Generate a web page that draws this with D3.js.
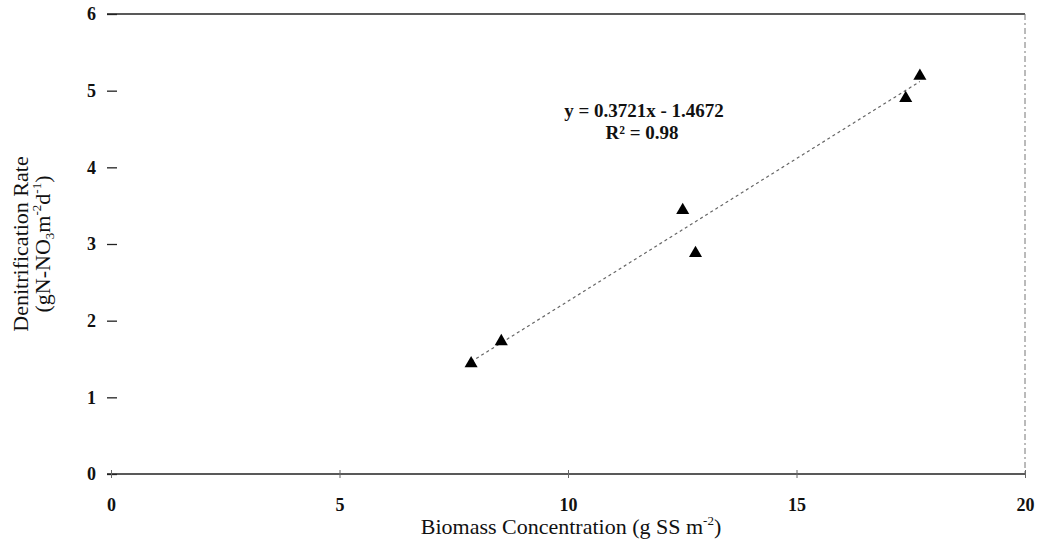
<!DOCTYPE html>
<html lang="en">
<head>
    <meta charset="UTF-8">
    <title>Denitrification Rate vs Biomass Concentration</title>
    <script src="https://d3js.org/d3.v7.min.js"></script>
    <style>
        body {
            margin: 0;
            background: #fff;
        }

        svg text {
            font-family: "Liberation Serif", "DejaVu Serif", serif;
            fill: #111;
        }

        .tick text {
            font-size: 18px;
            font-weight: bold;
        }

        .axis-title {
            font-size: 22px;
        }

        .equation {
            font-size: 19px;
            font-weight: bold;
        }
    </style>
</head>
<body>

<div id="chart"></div>

<script>
    // data
    var biomass = [7.88, 8.54, 12.51, 12.79, 17.39, 17.70];
    var denitRate = [1.44, 1.73, 3.44, 2.88, 4.90, 5.19];
    var xTicks = [0, 5, 10, 15, 20];
    var yTicks = [0, 1, 2, 3, 4, 5, 6];
    var slope = 0.3721;
    var intercept = -1.4672;
    var eqLines = ["y = 0.3721x - 1.4672", "R\u00b2 = 0.98"];

    var w = 1042;
    var h = 544;
    var plotLeft = 111, plotRight = 1025, plotTop = 14, plotBottom = 474;

    var x = d3.scaleLinear().domain([0, 20]).range([plotLeft, plotRight]);
    var y = d3.scaleLinear().domain([0, 6]).range([plotBottom, plotTop]);

    var svg = d3.select("#chart")
        .append("svg")
        .attr("width", w)
        .attr("height", h);

    // frame: top and bottom solid, right side faint dashed, no left line
    svg.append("line")
        .attr("x1", plotLeft - 4).attr("x2", plotRight)
        .attr("y1", y(6)).attr("y2", y(6))
        .attr("stroke", "#222").attr("stroke-width", 1.5);

    svg.append("line")
        .attr("x1", plotLeft - 4).attr("x2", plotRight)
        .attr("y1", y(0)).attr("y2", y(0))
        .attr("stroke", "#222").attr("stroke-width", 1.5);

    svg.append("line")
        .attr("x1", plotRight).attr("x2", plotRight)
        .attr("y1", y(6)).attr("y2", y(0))
        .attr("stroke", "#777").attr("stroke-width", 1)
        .attr("stroke-dasharray", "6,3,2,3");

    // y axis: short inward ticks
    var yAxis = d3.axisLeft(y)
        .tickValues(yTicks)
        .tickFormat(d3.format("d"))
        .tickSizeInner(-10)
        .tickSizeOuter(0)
        .tickPadding(11);

    var gy = svg.append("g")
        .attr("transform", "translate(" + (plotLeft - 4) + ",0)")
        .call(yAxis);
    gy.select(".domain").remove();
    gy.selectAll(".tick line").attr("stroke", "#222").attr("stroke-width", 1.3);

    // x axis: small ticks crossing the line
    var xAxis = d3.axisBottom(x)
        .tickValues(xTicks)
        .tickFormat(d3.format("d"))
        .tickSizeInner(4)
        .tickSizeOuter(0)
        .tickPadding(20);

    var gx = svg.append("g")
        .attr("transform", "translate(0," + plotBottom + ")")
        .call(xAxis);
    gx.select(".domain").remove();
    gx.selectAll(".tick line")
        .attr("y1", -4)
        .attr("stroke", "#666");

    // trend line
    var xMin = d3.min(biomass), xMax = d3.max(biomass);
    var trend = [xMin, xMax].map(function(v) { return { x: v, y: slope * v + intercept }; });

    svg.append("path")
        .datum(trend)
        .attr("fill", "none")
        .attr("stroke", "#666")
        .attr("stroke-width", 1.2)
        .attr("stroke-dasharray", "3,3")
        .attr("d", d3.line()
            .x(function(d) { return x(d.x); })
            .y(function(d) { return y(d.y); }));

    // points
    svg.selectAll(".pt")
        .data(biomass)
        .enter().append("path")
        .attr("class", "pt")
        .attr("d", d3.symbol().type(d3.symbolTriangle).size(74))
        .attr("transform", function(d, i) { return "translate(" + x(d) + "," + y(denitRate[i]) + ")"; })
        .attr("fill", "#000");

    // equation
    svg.append("text")
        .attr("class", "equation")
        .attr("x", 644).attr("y", 117)
        .attr("text-anchor", "middle")
        .text(eqLines[0]);

    svg.append("text")
        .attr("class", "equation")
        .attr("x", 642).attr("y", 139)
        .attr("text-anchor", "middle")
        .text(eqLines[1]);

    // x axis title
    var xt = svg.append("text")
        .attr("class", "axis-title")
        .attr("x", 571).attr("y", 534)
        .attr("text-anchor", "middle");
    xt.append("tspan").text("Biomass Concentration (g SS m");
    xt.append("tspan").attr("dy", -9).attr("font-size", 13).text("-2");
    xt.append("tspan").attr("dy", 9).text(")");

    // y axis title, two rotated lines
    var cy = (plotTop + plotBottom) / 2;
    svg.append("text")
        .attr("class", "axis-title")
        .attr("transform", "translate(28," + cy + ") rotate(-90)")
        .attr("text-anchor", "middle")
        .text("Denitrification Rate");

    var yt = svg.append("text")
        .attr("class", "axis-title")
        .attr("transform", "translate(50," + cy + ") rotate(-90)")
        .attr("text-anchor", "middle");
    yt.append("tspan").text("(gN-NO");
    yt.append("tspan").attr("dy", 4).attr("font-size", 13).text("3");
    yt.append("tspan").attr("dy", -4).text("m");
    yt.append("tspan").attr("dy", -9).attr("font-size", 13).text("-2");
    yt.append("tspan").attr("dy", 9).text("d");
    yt.append("tspan").attr("dy", -9).attr("font-size", 13).text("-1");
    yt.append("tspan").attr("dy", 9).text(")");
</script>

</body>
</html>
